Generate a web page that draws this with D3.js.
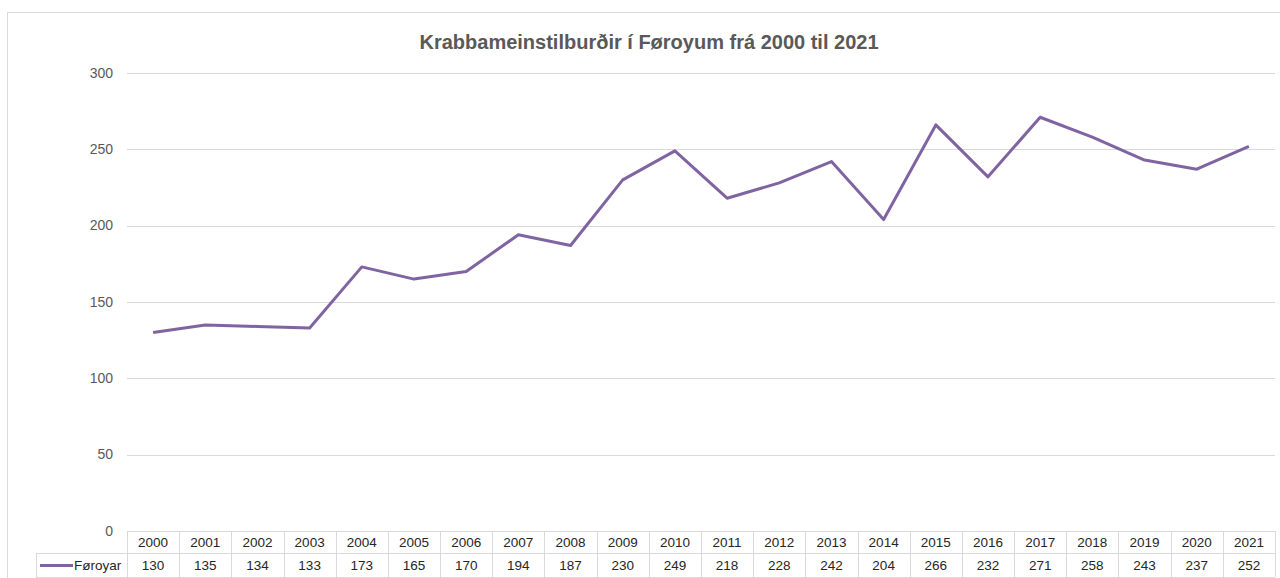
<!DOCTYPE html>
<html><head><meta charset="utf-8">
<script src="https://cdn.jsdelivr.net/npm/d3@7"></script>
<style>body{margin:0;background:#fff;}svg{display:block;font-family:"Liberation Sans",Arial,sans-serif;}</style>
</head><body>
<svg id="c" width="1280" height="578"></svg>
<script>
const title = "Krabbameinstilburðir í Føroyum frá 2000 til 2021";
const years = ["2000","2001","2002","2003","2004","2005","2006","2007","2008","2009","2010","2011","2012","2013","2014","2015","2016","2017","2018","2019","2020","2021"];
const values = [130,135,134,133,173,165,170,194,187,230,249,218,228,242,204,266,232,271,258,243,237,252];
const seriesName = "Føroyar";
const yTicks = [0,50,100,150,200,250,300];

const svg = d3.select("#c");
const L = 127, R = 1275, T = 73, B = 531;
const x = d3.scaleBand().domain(years).range([L, R]);
const y = d3.scaleLinear().domain([0, 300]).range([B, T]);

// outer border
svg.append("path").attr("d", `M7.5,578 L7.5,12.5 L1280,12.5`).attr("fill","none").attr("stroke","#d9d9d9");

svg.append("text").attr("x", 649).attr("y", 49).attr("text-anchor","middle")
  .attr("font-size", 20).attr("font-weight","bold").attr("fill","#595959").text(title);

// gridlines
svg.append("g").selectAll("line").data(yTicks.filter(d=>d>0)).join("line")
  .attr("x1", L).attr("x2", R).attr("y1", d=>Math.round(y(d))+0.5).attr("y2", d=>Math.round(y(d))+0.5)
  .attr("stroke","#d9d9d9").attr("stroke-width",1);

// y axis labels
const ya = svg.append("g").attr("transform",`translate(${L-14},0)`)
  .call(d3.axisLeft(y).tickValues(yTicks).tickSize(0).tickPadding(0));
ya.select(".domain").remove();
ya.selectAll("text").attr("font-size",14).attr("fill","#595959").attr("font-family","Liberation Sans, Arial, sans-serif").attr("dy","0.3em");

// line
svg.append("path").datum(values)
  .attr("d", d3.line().x((d,i)=>x(years[i])+x.bandwidth()/2).y(d=>y(d)))
  .attr("fill","none").attr("stroke","#8064a2").attr("stroke-width",3).attr("stroke-linejoin","round");

// data table
const r1 = B, r2 = 553, r3 = 577, legL = 36;
const tg = svg.append("g").attr("stroke","#d9d9d9").attr("stroke-width",1);
tg.append("line").attr("x1",L).attr("x2",R).attr("y1",r1+0.5).attr("y2",r1+0.5);
tg.append("line").attr("x1",legL).attr("x2",R).attr("y1",r2+0.5).attr("y2",r2+0.5);
tg.append("line").attr("x1",legL).attr("x2",R).attr("y1",r3+0.5).attr("y2",r3+0.5);
tg.append("line").attr("x1",legL+0.5).attr("x2",legL+0.5).attr("y1",r2).attr("y2",r3);
tg.selectAll(".v").data(years.concat(["end"])).join("line")
  .attr("x1",(d,i)=>Math.round(L + i*x.bandwidth())+0.5).attr("x2",(d,i)=>Math.round(L + i*x.bandwidth())+0.5)
  .attr("y1",r1).attr("y2",r3);

svg.append("g").selectAll("text").data(years).join("text")
  .attr("x", d=>x(d)+x.bandwidth()/2).attr("y", (r1+r2)/2+5).attr("text-anchor","middle")
  .attr("font-size",13.5).attr("fill","#262626").text(d=>d);
svg.append("g").selectAll("text").data(values).join("text")
  .attr("x", (d,i)=>x(years[i])+x.bandwidth()/2).attr("y", (r2+r3)/2+5).attr("text-anchor","middle")
  .attr("font-size",13.5).attr("fill","#262626").text(d=>d);

// legend key
svg.append("line").attr("x1",40).attr("x2",73).attr("y1",(r2+r3)/2+0.5).attr("y2",(r2+r3)/2+0.5)
  .attr("stroke","#8064a2").attr("stroke-width",3);
svg.append("text").attr("x",74).attr("y",(r2+r3)/2+5).attr("font-size",13.5).attr("fill","#262626").text(seriesName);
</script>
</body></html>
